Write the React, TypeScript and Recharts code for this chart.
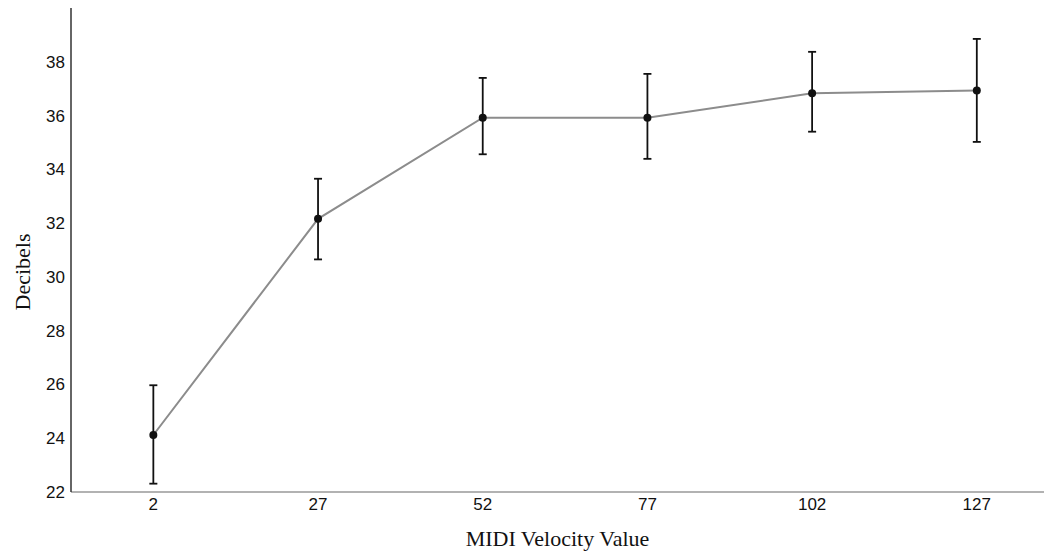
import { CartesianGrid, ErrorBar, Line, LineChart, XAxis, YAxis } from "recharts";

const velocities = [2, 27, 52, 77, 102, 127];
const meanDb = [24.12, 32.16, 35.92, 35.92, 36.83, 36.93];
const lowerDb = [22.31, 30.65, 34.56, 34.39, 35.4, 35.02];
const upperDb = [25.97, 33.65, 37.4, 37.55, 38.37, 38.85];
const yTicks = [22, 24, 26, 28, 30, 32, 34, 36, 38];

const data = velocities.map((v, i) => ({
  velocity: v,
  db: meanDb[i],
  err: [meanDb[i] - lowerDb[i], upperDb[i] - meanDb[i]],
}));

const TICK = { fill: "#111", fontSize: 17, fontFamily: "'Liberation Sans', Arial, sans-serif" };
const TITLE_FONT = "'Liberation Serif', 'Times New Roman', serif";

function YTitle(props: any) {
  const vb = props.viewBox;
  const cx = 22;
  const cy = vb.y + vb.height / 2 + 22;
  return (
    <text
      x={cx}
      y={cy}
      transform={`rotate(-90, ${cx}, ${cy})`}
      textAnchor="middle"
      dominantBaseline="central"
      fontFamily={TITLE_FONT}
      fontSize={22}
      fill="#111"
    >
      Decibels
    </text>
  );
}

export default function App() {
  return (
    <div style={{ position: "absolute", left: 0, top: 0, background: "#fff" }}>
      <LineChart width={1052} height={552} data={data} margin={{ top: 8, right: 8, bottom: 0, left: 0 }}>
        <CartesianGrid stroke="none" />
        <XAxis
          dataKey="velocity"
          type="number"
          domain={[-10.5, 137.2]}
          ticks={velocities}
          allowDataOverflow
          height={60}
          tick={TICK}
          tickSize={0}
          tickMargin={6}
          stroke="#999"
          axisLine={{ stroke: "#999", strokeWidth: 1.5 }}
          tickLine={false}
          label={{
            value: "MIDI Velocity Value",
            position: "insideBottom",
            offset: 6,
            style: { fontFamily: TITLE_FONT, fontSize: 22, fill: "#111" },
          }}
        />
        <YAxis
          type="number"
          domain={[22, 40]}
          ticks={yTicks}
          width={71}
          tick={TICK}
          tickSize={0}
          tickMargin={6}
          axisLine={{ stroke: "#333", strokeWidth: 1.5 }}
          tickLine={false}
          label={<YTitle />}
        />
        <Line
          dataKey="db"
          stroke="#8c8c8c"
          strokeWidth={2}
          dot={{ r: 4, fill: "#111", stroke: "#111", strokeWidth: 0 }}
          activeDot={false}
          isAnimationActive={false}
        >
          <ErrorBar dataKey="err" direction="y" width={4} stroke="#111" strokeWidth={1.8} isAnimationActive={false} />
        </Line>
      </LineChart>
    </div>
  );
}
